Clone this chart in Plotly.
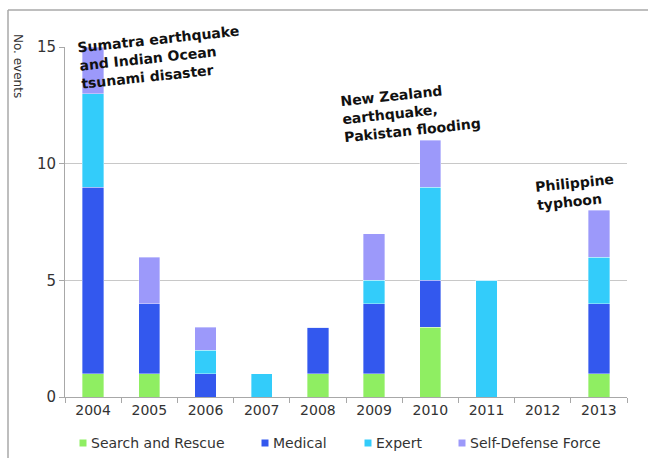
import plotly.graph_objects as go

years = ["2004", "2005", "2006", "2007", "2008", "2009", "2010", "2011", "2012", "2013"]
search_rescue = [1, 1, 0, 0, 1, 1, 3, 0, 0, 1]
medical = [8, 3, 1, 0, 2, 3, 2, 0, 0, 3]
expert = [4, 0, 1, 1, 0, 1, 4, 5, 0, 2]
self_defense = [2, 2, 1, 0, 0, 2, 2, 0, 0, 2]

series = [
    ("Search and Rescue", search_rescue, "#8FEE62"),
    ("Medical", medical, "#3358EE"),
    ("Expert", expert, "#33CCFA"),
    ("Self-Defense Force", self_defense, "#9C99FA"),
]

W, H = 652, 458
L, R, T, B = 65, 25, 47, 61
PW, PH = W - L - R, H - T - B

def px(x):
    return (x - L) / PW

def py(y):
    return (H - B - y) / PH

fig = go.Figure()
for name, vals, col in series:
    fig.add_trace(go.Bar(x=years, y=vals, name=name, marker=dict(color=col, line=dict(width=0.6, color="rgba(255,255,255,0.6)")),
                         showlegend=False))

FONT = "DejaVu Sans, Verdana, sans-serif"
annotations = []
events = [
    ("Sumatra earthquake<br>and Indian Ocean<br>tsunami disaster", 160, 57),
    ("New Zealand<br>earthquake,<br>Pakistan flooding", 410, 112),
    ("Philippine<br>typhoon", 575, 192),
]
for txt, x, y in events:
    annotations.append(dict(text="<b>" + txt + "</b>", x=px(x), y=py(y), xref="paper", yref="paper",
                            xanchor="center", yanchor="middle", align="left", showarrow=False,
                            textangle=-6, font=dict(family=FONT, size=14, color="#111111")))

annotations.append(dict(text="No. events", x=px(18), y=py(66), xref="paper", yref="paper",
                        xanchor="center", yanchor="middle", showarrow=False, textangle=90,
                        font=dict(family=FONT, size=12, color="#333333")))

shapes = [
    dict(type="line", xref="paper", yref="paper", x0=px(8), x1=px(648), y0=py(10), y1=py(10),
         line=dict(color="#A8A8A8", width=1.5)),
    dict(type="line", xref="paper", yref="paper", x0=px(8), x1=px(8), y0=py(10), y1=py(460),
         line=dict(color="#A8A8A8", width=1.5)),
]

legend_pos = [83, 265, 368, 462]
for (name, vals, col), lx in zip(series, legend_pos):
    shapes.append(dict(type="rect", xref="paper", yref="paper", x0=px(lx - 3.5), x1=px(lx + 3.5),
                       y0=py(446.5), y1=py(439.5), fillcolor=col, line=dict(width=0)))
    annotations.append(dict(text=name, x=px(lx + 6), y=py(443), xref="paper", yref="paper",
                            xanchor="left", yanchor="middle", showarrow=False,
                            font=dict(family=FONT, size=14, color="#333333")))

fig.update_layout(
    width=W, height=H,
    margin=dict(l=L, r=R, t=T, b=B),
    barmode="stack", bargap=0.62,
    plot_bgcolor="white", paper_bgcolor="white",
    font=dict(family=FONT, size=13, color="#333333"),
    annotations=annotations, shapes=shapes,
    xaxis=dict(type="category", showline=True, linecolor="#A8A8A8", linewidth=1,
               ticks="outside", tickson="boundaries", ticklen=5, tickcolor="#A8A8A8",
               showgrid=False, tickfont=dict(family=FONT, size=14, color="#333333")),
    yaxis=dict(range=[0, 15], tickvals=[0, 5, 10, 15], showline=True, linecolor="#A8A8A8",
               linewidth=1, ticks="outside", ticklen=5, tickcolor="#A8A8A8",
               showgrid=True, gridcolor="#C8C8C8", gridwidth=1, zeroline=False,
               tickfont=dict(family=FONT, size=15, color="#333333")),
)

fig.write_html("out.html")
